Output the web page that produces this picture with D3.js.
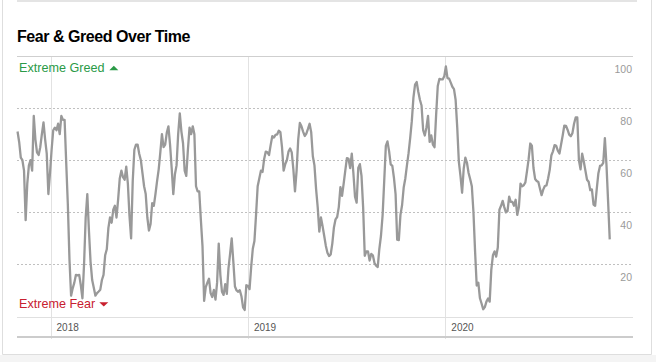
<!DOCTYPE html>
<html>
<head>
<meta charset="utf-8">
<script src="https://cdn.jsdelivr.net/npm/d3@7"></script>
<style>
  body { margin: 0; background: #fff; }
  svg { display: block; font-family: "Liberation Sans", Arial, sans-serif; }
</style>
</head>
<body>
<svg id="drawing_region"></svg>
<script>
// index values, one reading every 3 days starting 2017-11-01
const startDate = new Date(2017, 10, 1);
const stepDays = 3;
const values = [
  71, 67, 61, 60, 56, 37, 51, 58, 60, 56, 77, 68, 63, 62, 65, 70, 74.5, 68, 62.5, 47,
  55, 64, 71.5, 72.5, 71.5, 74, 70, 77, 75.5, 75.5, 59, 43, 22, 8, 10.8, 13, 16, 15.8, 16, 12,
  7, 20, 38, 47, 33, 21, 14, 11, 8, 9, 9.6, 10.3, 14, 16, 23.5, 25.8, 34, 38, 36, 41,
  42.5, 38, 45, 53, 56, 53.5, 52.5, 57.5, 51, 38.6, 30, 52, 64, 66, 66, 62.5,
  60, 55, 50, 47, 38, 33, 35.5, 43.5, 42.5, 47, 52, 56.5, 63, 70, 65, 66, 70.6, 73, 66, 57,
  47, 54.6, 58, 70, 78, 71, 66.5, 56, 54, 64, 72.5, 70, 73, 70, 50, 48, 48, 37, 27, 6,
  11.3, 13, 14.5, 9, 7.5, 10.2, 6.5, 13, 28, 16, 9.5, 8.3, 12.4, 8.7, 18.5, 24, 30, 21, 11.5, 10,
  9.5, 10.1, 7.8, 3.5, 2.5, 12, 11.8, 10.5, 19, 26, 29, 39, 50, 53,
  56, 55.5, 60.5, 63.3, 63, 62, 65.8, 69.2, 68.7, 69.7, 69.9, 71.3, 70.8, 65, 56, 58.5, 60, 63.3, 64.5, 63,
  56.5, 48, 56, 68, 74.3, 73, 71, 69.3, 70.2, 72, 74, 70.7, 61.5, 58, 49, 42, 32.6, 38, 34.7, 31,
  27.2, 24.5, 23.2, 23.8, 28, 34.2, 37.3, 38.2, 42, 49.7, 46.3, 51, 56, 60.8, 60.5, 57, 62.5, 55, 46, 43.7,
  57, 58.5, 54, 42, 23.3, 25, 25, 21.5, 24, 23.5, 20.5, 19.5, 19, 26,
  31, 38.8, 52, 65.5, 67.2, 63.5, 58.4, 57.8, 53.2, 47, 29.5, 29.3, 39, 42.7, 49.5, 53, 58, 62.7, 68.5, 75,
  84, 89, 90, 86.3, 83.2, 81, 71.5, 69.5, 72.5, 77, 67, 69.5, 66, 65, 77.5, 88.5, 91.2, 91, 91, 92.2,
  96, 91.5, 91.3, 89.8, 88.2, 87.3, 83.2, 72.6, 59.4, 54, 47.5, 56.8, 61, 59, 55.1, 52.7, 50, 40, 25, 11.9,
  13, 7, 5, 2.8, 3.6, 5.7, 6.9, 5.7, 18, 23.5, 25, 23, 26.5, 41,
  42.5, 44.4, 42, 40, 40.5, 46, 44, 44, 42.5, 44.8, 39, 42, 51, 50, 50.4, 51.5, 55.8, 60.4, 66.4, 65.6,
  57, 52.8, 52, 51.6, 49, 46.6, 48.7, 50.1, 50.3, 53, 56.3, 61.8, 63.4, 65.8, 65.5, 63.7, 62.6, 66, 69.5, 73.3,
  73.2, 71.7, 69.8, 69.2, 70.4, 74, 76.4, 76.4, 60, 56.5, 62.5, 59.5, 56, 52.5, 51.7, 48.5, 48.8, 43, 42.5, 49,
  55, 57.8, 58, 59, 68.5, 58, 44, 29.6
];
const yTicks = [20, 40, 60, 80, 100];
const dashedTicks = [20, 40, 60, 80];
const xDomain = [new Date(2017, 9, 31), new Date(2020, 11, 13)];

const data = values.map((v, i) => ({ date: d3.timeDay.offset(startDate, i * stepDays), value: v }));

class LineChart {

    constructor( config, data ) {
        this.config = config;
        this.data = data;
        this.init();
    }

    init() {
        let self = this;

        self.svg = d3.select( self.config.parent )
            .attr('width', self.config.width)
            .attr('height', self.config.height);

        self.inner_width = self.config.width - self.config.margin.left - self.config.margin.right;
        self.inner_height = self.config.plot_height;

        self.chart = self.svg.append('g')
            .attr('transform', `translate(${self.config.margin.left}, ${self.config.margin.top})`);

        self.xscale = d3.scaleTime()
            .domain( xDomain )
            .range( [0, self.inner_width] );

        self.yscale = d3.scaleLinear()
            .domain( [0, 100] )
            .range( [self.inner_height, 0] );
    }

    render() {
        let self = this;
        const W = self.config.width, H = self.config.height;
        const crisp = v => Math.round(v) + 0.5;

        // card frame
        self.svg.append('rect')
            .attr('x', 0).attr('y', 355).attr('width', W).attr('height', H - 355)
            .attr('fill', '#f4f4f4');
        self.svg.append('rect')
            .attr('x', 17).attr('y', 0).attr('width', 620).attr('height', 2)
            .attr('fill', '#e4e4e4');
        self.svg.append('path')
            .attr('d', `M2.5,0V354.5H651.5V0`)
            .attr('fill', 'none')
            .attr('stroke', '#dedede');

        self.svg.append('text')
            .attr('x', 17)
            .attr('y', 42)
            .attr('font-size', '16px')
            .attr('font-weight', 'bold')
            .attr('letter-spacing', '-0.45px')
            .attr('fill', '#000')
            .text('Fear & Greed Over Time');

        // year gridlines
        const years = self.xscale.ticks(d3.timeYear.every(1));
        self.chart.selectAll('.ygrid')
            .data(years)
            .join('line')
            .attr('x1', d => crisp(self.xscale(d)))
            .attr('x2', d => crisp(self.xscale(d)))
            .attr('y1', 0)
            .attr('y2', 283)
            .attr('stroke', '#e2e2e2');

        // horizontal lines
        self.chart.append('line')
            .attr('x1', 0).attr('x2', self.inner_width)
            .attr('y1', crisp(self.yscale(100))).attr('y2', crisp(self.yscale(100)))
            .attr('stroke', '#cfcfcf');
        self.chart.append('line')
            .attr('x1', 0).attr('x2', self.inner_width)
            .attr('y1', crisp(self.yscale(0))).attr('y2', crisp(self.yscale(0)))
            .attr('stroke', '#e0e0e0');
        self.chart.selectAll('.dash')
            .data(dashedTicks)
            .join('line')
            .attr('x1', 0).attr('x2', self.inner_width)
            .attr('y1', d => crisp(self.yscale(d)))
            .attr('y2', d => crisp(self.yscale(d)))
            .attr('stroke', '#c0c0c0')
            .attr('stroke-dasharray', '2,2');

        // bottom axis bar
        self.chart.append('rect')
            .attr('x', 0).attr('y', 280).attr('width', self.inner_width).attr('height', 2)
            .attr('fill', '#cccccc');

        self.chart.selectAll('.yearlabel')
            .data(years)
            .join('text')
            .attr('x', d => self.xscale(d) + 6)
            .attr('y', 274.5)
            .attr('font-size', '10px')
            .attr('fill', '#555')
            .text(d3.timeFormat('%Y'));

        self.chart.selectAll('.ylabel')
            .data(yTicks)
            .join('text')
            .attr('x', self.inner_width - 1)
            .attr('y', d => self.yscale(d) + 17)
            .attr('text-anchor', 'end')
            .attr('font-size', '10.5px')
            .attr('fill', '#9a9a9a')
            .text(d => d);

        // extreme labels
        const greed = self.chart.append('g').attr('transform', 'translate(2, 15.7)');
        greed.append('text')
            .attr('font-size', '12.6px')
            .attr('fill', '#2b9a47')
            .text('Extreme Greed');
        greed.append('path')
            .attr('d', 'M90.3,-1.5L99.3,-1.5L94.8,-6Z')
            .attr('fill', '#2b9a47');

        const fear = self.chart.append('g').attr('transform', 'translate(2, 252.3)');
        fear.append('text')
            .attr('font-size', '12.6px')
            .attr('fill', '#c8202f')
            .text('Extreme Fear');
        fear.append('path')
            .attr('d', 'M80.3,-6L89.3,-6L84.8,-1.8Z')
            .attr('fill', '#c8202f');

        const line = d3.line()
            .x(d => self.xscale(d.date))
            .y(d => self.yscale(d.value));

        self.chart.append('path')
            .datum(self.data)
            .attr('d', line)
            .attr('fill', 'none')
            .attr('stroke', '#999')
            .attr('stroke-width', 2.3)
            .attr('stroke-linejoin', 'round');
    }
}

const config = {
    parent: '#drawing_region',
    width: 656,
    height: 362,
    plot_height: 260.5,
    margin: {top: 56, right: 23, bottom: 45, left: 17}
};

const chart = new LineChart( config, data );
chart.render();
</script>
</body>
</html>
